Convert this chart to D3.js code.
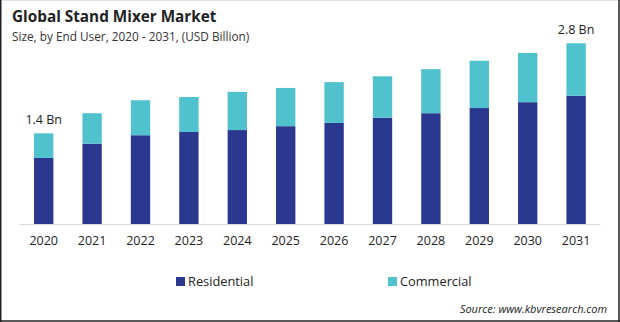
<!DOCTYPE html>
<html>
<head>
<meta charset="utf-8">
<title>Global Stand Mixer Market</title>
<script src="https://d3js.org/d3.v7.min.js"></script>
<style>
  body { margin: 0; background: #fff; }
  svg { display: block; font-family: "Open Sans", "Noto Sans", sans-serif; }
</style>
</head>
<body>
<svg width="620" height="322"></svg>
<script>
// chart data
var years = ["2020","2021","2022","2023","2024","2025","2026","2027","2028","2029","2030","2031"];
var residential = [1.02, 1.24, 1.37, 1.42, 1.45, 1.51, 1.56, 1.64, 1.71, 1.79, 1.88, 1.98];
var commercial  = [0.38, 0.47, 0.54, 0.54, 0.59, 0.59, 0.63, 0.64, 0.68, 0.73, 0.76, 0.81];
var seriesNames = ["Residential", "Commercial"];
var totalLabels = {"2020": "1.4 Bn", "2031": "2.8 Bn"};

var colors = {"Residential": "#2b388f", "Commercial": "#4fc2ce"};

var svg = d3.select("svg");

// frame
svg.append("line").attr("x1", 0.5).attr("x2", 619.5).attr("y1", 0.5).attr("y2", 0.5)
  .style("stroke", "#e4e4e4");
svg.append("line").attr("x1", 0.75).attr("x2", 0.75).attr("y1", 0).attr("y2", 322)
  .style("stroke", "#222").style("stroke-width", 1.5);
svg.append("line").attr("x1", 619).attr("x2", 619).attr("y1", 0).attr("y2", 322)
  .style("stroke", "#222").style("stroke-width", 1.5);
svg.append("line").attr("x1", 0).attr("x2", 620).attr("y1", 321).attr("y2", 321)
  .style("stroke", "#222").style("stroke-width", 1.5);

// titles
svg.append("text").attr("x", 12).attr("y", 22)
  .text("Global Stand Mixer Market")
  .style("font-size", "15.3px").style("font-weight", "bold").style("fill", "#222");
svg.append("text").attr("x", 12).attr("y", 41)
  .text("Size, by End User, 2020 - 2031, (USD Billion)")
  .style("font-size", "11.8px").style("fill", "#333");

var baseY = 224;

var x = d3.scaleBand()
  .domain(years)
  .range([19.5, 600.3])
  .paddingInner(0.6)
  .paddingOuter(0.3);

var y = d3.scaleLinear()
  .domain([0, 2.8])
  .range([baseY, baseY - 181.4]);

var table = years.map(function(yr, i) {
  return {year: yr, Residential: residential[i], Commercial: commercial[i]};
});

var stacked = d3.stack().keys(seriesNames)(table);

svg.append("g")
  .selectAll("g")
  .data(stacked)
  .enter()
  .append("g")
  .attr("fill", function(d) { return colors[d.key]; })
  .selectAll("rect")
  .data(function(d) { return d; })
  .enter()
  .append("rect")
  .attr("x", function(d) { return x(d.data.year); })
  .attr("width", x.bandwidth())
  .attr("y", function(d) { return y(d[1]); })
  .attr("height", function(d) { return y(d[0]) - y(d[1]); });

// x axis
var xAxis = svg.append("g")
  .attr("transform", "translate(0," + baseY + ")")
  .call(d3.axisBottom(x).tickSize(0).tickPadding(12));
xAxis.select(".domain").attr("d", "M19.5,0.5H600.3").style("stroke", "#d9d9d9");
xAxis.selectAll("text")
  .style("font-family", "'Open Sans', 'Noto Sans', sans-serif")
  .style("font-size", "12.5px")
  .style("fill", "#222");

// total labels
svg.selectAll(".tot")
  .data(table.filter(function(d) { return totalLabels[d.year]; }))
  .enter()
  .append("text")
  .attr("class", "tot")
  .attr("x", function(d) { return x(d.year) + x.bandwidth() / 2; })
  .attr("y", function(d) { return y(d.Residential + d.Commercial) - 9; })
  .attr("text-anchor", "middle")
  .text(function(d) { return totalLabels[d.year]; })
  .style("font-size", "12.5px")
  .style("fill", "#222");

// legend
var legendX = [176, 388];
var legend = svg.selectAll(".leg")
  .data(seriesNames)
  .enter()
  .append("g")
  .attr("class", "leg")
  .attr("transform", function(d, i) { return "translate(" + legendX[i] + ",277)"; });
legend.append("rect").attr("width", 9).attr("height", 9)
  .attr("fill", function(d) { return colors[d]; });
legend.append("text").attr("x", 12).attr("y", 8.5)
  .text(function(d) { return d; })
  .style("font-size", "12.8px").style("fill", "#222");

// source
svg.append("text").attr("x", 607).attr("y", 313)
  .attr("text-anchor", "end")
  .text("Source: www.kbvresearch.com")
  .style("font-size", "11px").style("font-style", "italic").style("fill", "#222");
</script>
</body>
</html>
